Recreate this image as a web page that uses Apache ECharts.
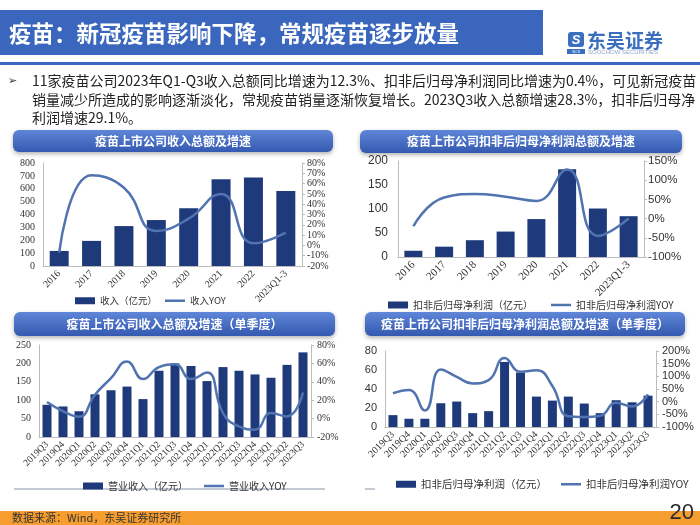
<!DOCTYPE html>
<html><head><meta charset="utf-8">
<script src="https://cdn.jsdelivr.net/npm/echarts@6/dist/echarts.min.js"></script>
<style>html,body{margin:0;padding:0;background:#fff;}#c{width:700px;height:525px;}</style>
</head><body><div id="c"></div>
<script>
// ---------- data ----------
const yearCats = ['2016','2017','2018','2019','2020','2021','2022','2023Q1-3'];
const revenueAnnual = [117,195,310,357,448,674,687,583];
const revenueAnnualYoy = [-7,68,56,14,26,50,2,12.3];
const profitAnnual = [13,21.5,35,53,79,183,101,85];
const profitAnnualYoy = [-20,55,64,57,46,128,-45,0.4];
const quarterCats = ['2019Q3','2019Q4','2020Q1','2020Q2','2020Q3','2020Q4','2021Q1','2021Q2','2021Q3','2021Q4','2022Q1','2022Q2','2022Q3','2022Q4','2023Q1','2023Q2','2023Q3'];
const revenueQuarter = [87.5,83,70,116,127,137,103,180,200,193,152,190,180,170,161,196,230];
const revenueQuarterYoy = [18,8,2,26,44,62,43,56,59,43,50,6,-8.5,-12,6,2.4,28.3];
const profitQuarter = [12.5,8.7,8.7,25,26.8,14.6,16.7,68.5,57.4,32,27.8,32,24.7,14.6,28.2,26,33];
const profitQuarterYoy = [33,46,-35,127,98,72,85,172,118,124,62,-58,-61,-56,-4,-19,29];

const pageTitle = '疫苗：新冠疫苗影响下降，常规疫苗逐步放量';
const bulletLines = [
  '11家疫苗公司2023年Q1-Q3收入总额同比增速为12.3%、扣非后归母净利润同比增速为0.4%，可见新冠疫苗',
  '销量减少所造成的影响逐渐淡化，常规疫苗销量逐渐恢复增长。2023Q3收入总额增速28.3%，扣非后归母净',
  '利润增速29.1%。'
];
const panelTitles = ['疫苗上市公司收入总额及增速','疫苗上市公司扣非后归母净利润总额及增速','疫苗上市公司收入总额及增速（单季度）','疫苗上市公司扣非后归母净利润总额及增速（单季度）'];
const sourceText = '数据来源：Wind，东吴证券研究所';

// ---------- style ----------
const BAR = '#1f3a7b', LINE = '#5173b0', AX = '#bcbcbc', TXT = '#333';
const serif = '"Liberation Serif","Times New Roman",serif';
const sans = '"Liberation Sans",Arial,sans-serif';
const cjk = '"Noto Sans CJK SC","Noto Sans",sans-serif';
const LINE_ICON = 'path://M0,0h0.05v0.05h-0.05z M0,2.3h20v2.4h-20z M19.95,6.95h0.05v0.05h-0.05z';

const chart = echarts.init(document.getElementById('c'));

function xAx(grid, data, size, fam) {
  return {type:'category', gridIndex:grid, data:data,
    axisLine:{lineStyle:{color:AX}}, axisTick:{show:false},
    axisLabel:{rotate:45, fontSize:size, fontFamily:fam, color:TXT, margin:6, interval:0}};
}
function yAx(grid, min, max, interval, pct, size, fam, margin, ticks) {
  return {type:'value', gridIndex:grid, min:min, max:max, interval:interval,
    splitLine:{show:false},
    axisLine:{show:true, lineStyle:{color:AX}},
    axisTick:{show:ticks, length:3, lineStyle:{color:AX}},
    axisLabel:{formatter: pct ? '{value}%' : '{value}', fontSize:size, fontFamily:fam, color:TXT, margin:margin}};
}
function barS(name, xi, yi, data, w) {
  return {name:name, type:'bar', xAxisIndex:xi, yAxisIndex:yi, data:data, barWidth:w,
    itemStyle:{color:BAR}, z:2};
}
function lineS(name, xi, yi, data) {
  return {name:name, type:'line', xAxisIndex:xi, yAxisIndex:yi, data:data, smooth:true,
    symbol:'none', lineStyle:{color:LINE, width:2.5}, itemStyle:{color:LINE}, z:3};
}
function legend(left, top, names, size, gap) {
  return {left:left, top:top, itemGap:gap, itemWidth:20, itemHeight:7,
    textStyle:{fontSize:size, fontFamily:cjk, color:TXT},
    data:[{name:names[0], icon:'rect'}, {name:names[1], icon:LINE_ICON}]};
}
function banner(x, y, w, h, text) {
  return [
    {type:'rect', shape:{x:x, y:y, width:w, height:h, r:6},
     style:{fill:{type:'linear', x:0, y:0, x2:0, y2:1,
       colorStops:[{offset:0, color:'#5f86d8'},{offset:1, color:'#3459b0'}]},
       shadowBlur:4, shadowOffsetY:2, shadowColor:'rgba(0,0,0,0.3)'}},
    {type:'text', x:x + w/2, y:y + h/2,
     style:{text:text, fill:'#fff', fontSize:12, fontWeight:'bold', fontFamily:cjk, align:'center', verticalAlign:'middle'}}
  ];
}

const graphics = [
  {type:'rect', shape:{x:0, y:10, width:543, height:45}, style:{fill:'#3a66bd'}},
  {type:'text', x:9, y:33, style:{text:pageTitle, fill:'#fff', fontSize:22.5, fontWeight:'bold', fontFamily:cjk, verticalAlign:'middle'}},
  {type:'rect', shape:{x:0, y:62, width:700, height:3}, style:{fill:'#3a66bd'}},
  // logo
  {type:'rect', shape:{x:568, y:32, width:16, height:15, r:3}, style:{fill:'#3a6fc0'}},
  {type:'text', x:576, y:40, style:{text:'S', fill:'#fff', fontSize:13, fontWeight:'bold', fontStyle:'italic', fontFamily:sans, align:'center', verticalAlign:'middle'}},
  {type:'rect', shape:{x:567, y:49, width:18, height:5}, style:{fill:'#3a6fc0'}},
  {type:'text', x:576, y:51.5, style:{text:'SCS', fill:'#fff', fontSize:4, fontFamily:sans, align:'center', verticalAlign:'middle'}},
  {type:'text', x:587, y:41, style:{text:'东吴证券', fill:'#3a6fc0', fontSize:19, fontWeight:'bold', fontFamily:cjk, verticalAlign:'middle'}},
  {type:'text', x:588, y:52, style:{text:'SOOCHOW SECURITIES', fill:'#8fa6c8', fontSize:6, fontFamily:sans, verticalAlign:'middle'}},
  // bullet
  {type:'text', x:8, y:81, style:{text:'➢', fill:'#333', fontSize:11, fontFamily:'"DejaVu Sans",sans-serif', verticalAlign:'middle'}},
  {type:'text', x:32, y:81, style:{text:bulletLines[0], fill:'#222', fontSize:14, fontFamily:cjk, verticalAlign:'middle'}},
  {type:'text', x:32, y:99.5, style:{text:bulletLines[1], fill:'#222', fontSize:14, fontFamily:cjk, verticalAlign:'middle'}},
  {type:'text', x:32, y:118, style:{text:bulletLines[2], fill:'#222', fontSize:14, fontFamily:cjk, verticalAlign:'middle'}},
  // bottom-left divider
  {type:'line', shape:{x1:14, y1:489, x2:325, y2:489}, style:{stroke:'#8a95a8', lineWidth:1}},
  {type:'line', shape:{x1:365, y1:489, x2:375, y2:489}, style:{stroke:'#8a95a8', lineWidth:1}},
  // footer
  {type:'rect', shape:{x:0, y:511, width:700, height:14}, style:{fill:'#f59d2f'}},
  {type:'text', x:12, y:518, style:{text:sourceText, fill:'#333', fontSize:11, fontFamily:cjk, verticalAlign:'middle'}},
  {type:'text', x:694, y:513, style:{text:'20', fill:'#2a2a2a', fontSize:22, fontFamily:sans, align:'right', verticalAlign:'middle'}}
].concat(
  banner(13, 130, 320, 22, panelTitles[0]),
  banner(360, 130, 322, 23, panelTitles[1]),
  banner(14, 312, 321, 24, panelTitles[2]),
  banner(365, 312, 320, 24, panelTitles[3])
);

chart.setOption({
  animation:false,
  backgroundColor:'#fff',
  graphic:{elements:graphics},
  grid:[
    {left:43, top:163, width:259, height:103},
    {left:398, top:161, width:246, height:96},
    {left:39, top:345, width:272, height:92},
    {left:385, top:351, width:271, height:76}
  ],
  xAxis:[
    xAx(0, yearCats, 10, serif),
    xAx(1, yearCats, 11, serif),
    xAx(2, quarterCats, 9.5, serif),
    xAx(3, quarterCats, 10, serif)
  ],
  yAxis:[
    yAx(0, 0, 800, 100, false, 10, serif, 8, false),
    yAx(0, -20, 80, 10, true, 10, serif, 5, true),
    yAx(1, 0, 200, 50, false, 12, sans, 10, false),
    yAx(1, -100, 150, 50, true, 11.5, sans, 4, true),
    yAx(2, 0, 250, 50, false, 10, serif, 8, false),
    yAx(2, -20, 80, 20, true, 10, serif, 6, true),
    yAx(3, 0, 80, 20, false, 11, sans, 8, false),
    yAx(3, -100, 200, 50, true, 11, sans, 6, true)
  ],
  legend:[
    legend(70, 291, ['收入（亿元）','收入YOY'], 9.5, 8),
    legend(383, 295, ['扣非后归母净利润（亿元）','扣非后归母净利润YOY'], 10, 18),
    legend(78, 476, ['营业收入（亿元）','营业收入YOY'], 10, 16),
    legend(391, 474, ['扣非后归母净利润（亿元）','扣非后归母净利润YOY'], 10.5, 14)
  ],
  series:[
    barS('收入（亿元）', 0, 0, revenueAnnual, 19),
    lineS('收入YOY', 0, 1, revenueAnnualYoy),
    barS('扣非后归母净利润（亿元）', 1, 2, profitAnnual, 18),
    lineS('扣非后归母净利润YOY', 1, 3, profitAnnualYoy),
    barS('营业收入（亿元）', 2, 4, revenueQuarter, 9),
    lineS('营业收入YOY', 2, 5, revenueQuarterYoy),
    barS('扣非后归母净利润（亿元）', 3, 6, profitQuarter, 9),
    lineS('扣非后归母净利润YOY', 3, 7, profitQuarterYoy)
  ]
});
</script>
</body></html>
